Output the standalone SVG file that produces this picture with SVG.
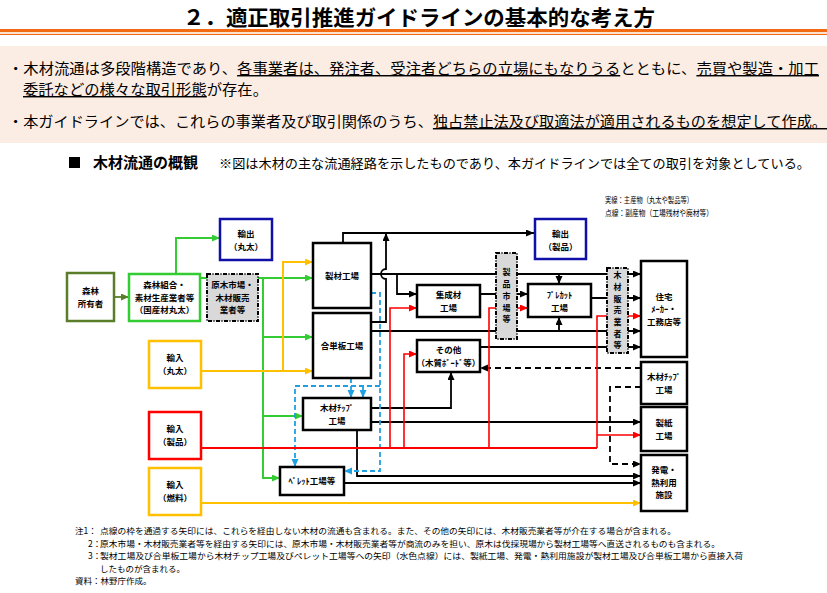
<svg xmlns="http://www.w3.org/2000/svg" width="827" height="593" viewBox="0 0 827 593">
<style>
text{font-family:"Noto Sans CJK JP","Noto Sans",sans-serif;fill:#000}
.title{font-size:21px;font-weight:700}
.body{font-size:14.5px}
.u{text-decoration:underline}
.t{font-size:8.5px;font-weight:700;text-anchor:middle}
.v{font-size:8px;font-weight:700;text-anchor:middle}
.note{font-size:8.5px}
.leg{font-size:8.5px}
.box{fill:#fff;stroke:#000;stroke-width:2.5}
.gray{fill:#d9d9d9;stroke:#000;stroke-width:2;stroke-dasharray:4 1.5 1 1.5}
.c{fill:none;stroke-width:1.8}
.k{stroke:#000}
.g{stroke:#33cc33;stroke-width:2}
.y{stroke:#ffc000;stroke-width:2}
.r{stroke:#ff0000;stroke-width:1.6}
.b{stroke:#1ea0e3;stroke-dasharray:5 3}
.d{stroke-dasharray:6 4}
</style>
<defs>
<marker id="ak" markerUnits="userSpaceOnUse" markerWidth="9" markerHeight="8" refX="8" refY="3.5" orient="auto"><path d="M0,0L8,3.5L0,7z" fill="#000"/></marker>
<marker id="ag" markerUnits="userSpaceOnUse" markerWidth="9" markerHeight="8" refX="8" refY="3.5" orient="auto"><path d="M0,0L8,3.5L0,7z" fill="#33cc33"/></marker>
<marker id="ao" markerUnits="userSpaceOnUse" markerWidth="9" markerHeight="8" refX="8" refY="3.5" orient="auto"><path d="M0,0L8,3.5L0,7z" fill="#5a7d2a"/></marker>
<marker id="ay" markerUnits="userSpaceOnUse" markerWidth="9" markerHeight="8" refX="8" refY="3.5" orient="auto"><path d="M0,0L8,3.5L0,7z" fill="#ffc000"/></marker>
<marker id="ar" markerUnits="userSpaceOnUse" markerWidth="9" markerHeight="8" refX="8" refY="3.5" orient="auto"><path d="M0,0L8,3.5L0,7z" fill="#ff0000"/></marker>
<marker id="ab" markerUnits="userSpaceOnUse" markerWidth="9" markerHeight="8" refX="8" refY="3.5" orient="auto"><path d="M0,0L8,3.5L0,7z" fill="#1ea0e3"/></marker>
</defs>
<rect width="827" height="593" fill="#fff"/>
<!-- header -->
<text class="title" x="183" y="25" textLength="472" lengthAdjust="spacingAndGlyphs">２．適正取引推進ガイドラインの基本的な考え方</text>
<rect x="0" y="29" width="827" height="3.2" fill="#f26b12"/>
<rect x="0" y="33.8" width="827" height="1.2" fill="#f26b12"/>
<rect x="0" y="46" width="827" height="97" fill="#fcede4"/>
<text class="body" x="8" y="74" textLength="811" lengthAdjust="spacingAndGlyphs">・木材流通は多段階構造であり、<tspan class="u">各事業者は、発注者、受注者どちらの立場にもなりうる</tspan>とともに、<tspan class="u">売買や製造・加工</tspan></text>
<text class="body" x="23" y="95" textLength="245" lengthAdjust="spacingAndGlyphs"><tspan class="u">委託などの様々な取引形態</tspan>が存在。</text>
<text class="body" x="8" y="127" textLength="819" lengthAdjust="spacingAndGlyphs">・本ガイドラインでは、これらの事業者及び取引関係のうち、<tspan class="u">独占禁止法及び取適法が適用されるものを想定して作成。</tspan></text>
<rect x="69" y="157" width="11" height="11" fill="#000"/>
<text x="93" y="168" style="font-size:15px;font-weight:700" textLength="105" lengthAdjust="spacingAndGlyphs">木材流通の概観</text>
<text x="219" y="168" style="font-size:13px" textLength="591" lengthAdjust="spacingAndGlyphs">※図は木材の主な流通経路を示したものであり、本ガイドラインでは全ての取引を対象としている。</text>
<text class="leg" x="605" y="203" textLength="88" lengthAdjust="spacingAndGlyphs">実線：主産物（丸太や製品等）</text>
<text class="leg" x="605" y="216" textLength="108" lengthAdjust="spacingAndGlyphs">点線：副産物（工場残材や廃材等）</text>

<g id="connectors">
<!-- olive / green -->
<path class="c" d="M114,297H129" stroke="#5a7d2a" stroke-width="2.5" marker-end="url(#ao)"/>
<path class="c g" d="M176,274V238H220" marker-end="url(#ag)"/>
<path class="c g" d="M200,278H313" marker-end="url(#ag)"/>
<path class="c g" d="M263,278V478H280" marker-end="url(#ag)"/>
<path class="c g" d="M263,337H313" marker-end="url(#ag)"/>
<path class="c g" d="M263,416H303" marker-end="url(#ag)"/>
<!-- yellow -->
<path class="c y" d="M201,371H313" marker-end="url(#ay)"/>
<path class="c y" d="M283,371V262H313" marker-end="url(#ay)"/>
<path class="c y" d="M201,503H641" marker-end="url(#ay)"/>
<!-- black -->
<path class="c k" d="M343,243V233H534" marker-end="url(#ak)"/>
<path class="c k" d="M371,322H386V279A5,5 0 0 1 386,269V233" marker-end="url(#ak)"/>
<path class="c k" d="M371,274H641" marker-end="url(#ak)"/>
<path class="c k" d="M397,274V294H417" marker-end="url(#ak)"/>
<path class="c k" d="M559,274V284" marker-end="url(#ak)"/>
<path class="c k" d="M480,294H528" marker-end="url(#ak)"/>
<path class="c k" d="M591,298H641" marker-end="url(#ak)"/>
<path class="c k" d="M371,331H641" marker-end="url(#ak)"/>
<path class="c k" d="M559,331V317" marker-end="url(#ak)"/>
<path class="c k" d="M480,347H641" stroke-width="2.2" marker-end="url(#ak)"/>
<path class="c k d" d="M641,368H480" marker-end="url(#ak)"/>
<path class="c k" d="M371,408H451V372" marker-end="url(#ak)"/>
<path class="c k" d="M371,422H641" marker-end="url(#ak)"/>
<path class="c k" d="M357,430V476H641" stroke-width="2.4" marker-end="url(#ak)"/>
<path class="c k" d="M344,483H641" marker-end="url(#ak)"/>
<path class="c k d" d="M641,387H610V464H641" marker-end="url(#ak)"/>
<!-- light blue dashed -->
<path class="c b" d="M351,378V398" marker-end="url(#ab)"/>
<path class="c b" d="M371,293H380V471H344" marker-end="url(#ab)"/>
<path class="c b" d="M380,386H295V467" marker-end="url(#ab)"/>
<path class="c b" d="M363,386V398" marker-end="url(#ab)"/>
<!-- red -->
<path class="c" d="M201,448H597" stroke="#ff0000" stroke-width="2.5"/>
<path class="c r" d="M390,448V308H417" marker-end="url(#ar)"/>
<path class="c r" d="M404,448V354H417" marker-end="url(#ar)"/>
<path class="c r" d="M489,448V308H528" marker-end="url(#ar)"/>
<path class="c r" d="M597,448V316H641" marker-end="url(#ar)"/>
<path class="c r" d="M597,435H641" marker-end="url(#ar)"/>
</g>

<g id="shinrin-shoyusha"><rect x="67" y="273" width="47" height="48" fill="#fff" stroke="#5a7d2a" stroke-width="2.5"/><text class="t"><tspan x="90.5" y="294">森林</tspan><tspan x="90.5" y="306.5">所有者</tspan></text></g>
<g id="shinrin-kumiai"><rect x="129" y="274" width="71" height="47" fill="#fff" stroke="#33cc33" stroke-width="2.5"/><text class="t"><tspan x="164.5" y="288">森林組合・</tspan><tspan x="164.5" y="300.5">素材生産業者等</tspan><tspan x="164.5" y="313">（国産材丸太）</tspan></text></g>
<g id="genboku-ichiba"><rect x="207" y="274" width="51" height="47" class="gray"/><text class="t"><tspan x="232.5" y="288">原木市場・</tspan><tspan x="232.5" y="300.5">木材販売</tspan><tspan x="232.5" y="313">業者等</tspan></text></g>
<g id="yushutsu-maruta"><rect x="220" y="219" width="52" height="41" fill="#fff" stroke="#1010a8" stroke-width="2.5"/><text class="t"><tspan x="246" y="237">輸出</tspan><tspan x="246" y="249.5">（丸太）</tspan></text></g>
<g id="seizai"><rect x="313" y="243" width="58" height="65" class="box"/><text class="t" x="342" y="279">製材工場</text></g>
<g id="goutanpan"><rect x="313" y="313" width="58" height="65" class="box"/><text class="t" x="342" y="349">合単板工場</text></g>
<g id="shuseizai"><rect x="417" y="285" width="63" height="32" class="box"/><text class="t"><tspan x="448.5" y="298">集成材</tspan><tspan x="448.5" y="310.5">工場</tspan></text></g>
<g id="sonota"><rect x="417" y="340" width="63" height="32" class="box"/><text class="t"><tspan x="448.5" y="353">その他</tspan><tspan x="448.5" y="365.5">（木質ﾎﾞｰﾄﾞ等）</tspan></text></g>
<g id="seihin-ichiba"><rect x="496" y="253" width="21" height="86" class="gray"/><text class="v"><tspan x="506.5" y="275.4">製</tspan><tspan x="506.5" y="287.1">品</tspan><tspan x="506.5" y="298.8">市</tspan><tspan x="506.5" y="310.5">場</tspan><tspan x="506.5" y="322.2">等</tspan></text></g>
<g id="precut"><rect x="528" y="284" width="63" height="33" class="box"/><text class="t"><tspan x="559.5" y="298">ﾌﾟﾚｶｯﾄ</tspan><tspan x="559.5" y="310.5">工場</tspan></text></g>
<g id="yushutsu-seihin"><rect x="535" y="219" width="51" height="40" fill="#fff" stroke="#1010a8" stroke-width="2.5"/><text class="t"><tspan x="560.5" y="237">輸出</tspan><tspan x="560.5" y="249.5">（製品）</tspan></text></g>
<g id="mokuzai-hanbai"><rect x="607" y="268" width="21" height="85" class="gray"/><text class="v"><tspan x="617.5" y="278.2">木</tspan><tspan x="617.5" y="289.9">材</tspan><tspan x="617.5" y="301.6">販</tspan><tspan x="617.5" y="313.3">売</tspan><tspan x="617.5" y="325">業</tspan><tspan x="617.5" y="336.7">者</tspan><tspan x="617.5" y="348.4">等</tspan></text></g>
<g id="jutaku"><rect x="641" y="261" width="46" height="96" class="box"/><text class="t"><tspan x="664" y="299.5">住宅</tspan><tspan x="664" y="312">ﾒｰｶｰ・</tspan><tspan x="664" y="324.5">工務店等</tspan></text></g>
<g id="chip-right"><rect x="641" y="362" width="46" height="42" class="box"/><text class="t"><tspan x="664" y="380">木材ﾁｯﾌﾟ</tspan><tspan x="664" y="392.5">工場</tspan></text></g>
<g id="seishi"><rect x="641" y="407" width="46" height="44" class="box"/><text class="t"><tspan x="664" y="426">製紙</tspan><tspan x="664" y="438.5">工場</tspan></text></g>
<g id="hatsuden"><rect x="641" y="455" width="46" height="56" class="box"/><text class="t"><tspan x="664" y="473">発電・</tspan><tspan x="664" y="485.5">熱利用</tspan><tspan x="664" y="498">施設</tspan></text></g>
<g id="chip-mid"><rect x="303" y="398" width="68" height="32" class="box"/><text class="t"><tspan x="337" y="411">木材ﾁｯﾌﾟ</tspan><tspan x="337" y="423.5">工場</tspan></text></g>
<g id="pellet"><rect x="280" y="467" width="64" height="28" class="box"/><text class="t" x="312" y="484">ﾍﾟﾚｯﾄ工場等</text></g>
<g id="yunyu-maruta"><rect x="149" y="341" width="52" height="47" fill="#fff" stroke="#ffc000" stroke-width="2.5"/><text class="t"><tspan x="175" y="361">輸入</tspan><tspan x="175" y="373.5">（丸太）</tspan></text></g>
<g id="yunyu-seihin"><rect x="149" y="412" width="52" height="47" fill="#fff" stroke="#ff0000" stroke-width="2.5"/><text class="t"><tspan x="175" y="432">輸入</tspan><tspan x="175" y="444.5">（製品）</tspan></text></g>
<g id="yunyu-nenryo"><rect x="149" y="468" width="52" height="47" fill="#fff" stroke="#ffc000" stroke-width="2.5"/><text class="t"><tspan x="175" y="488">輸入</tspan><tspan x="175" y="500.5">（燃料）</tspan></text></g>

<!-- notes -->
<text class="note" x="75" y="534">注1：</text>
<text class="note" x="100" y="534" textLength="576" lengthAdjust="spacingAndGlyphs">点線の枠を通過する矢印には、これらを経由しない木材の流通も含まれる。また、その他の矢印には、木材販売業者等が介在する場合が含まれる。</text>
<text class="note" x="88" y="546.5">2：</text>
<text class="note" x="100" y="546.5" textLength="620" lengthAdjust="spacingAndGlyphs">原木市場・木材販売業者等を経由する矢印には、原木市場・木材販売業者等が商流のみを担い、原木は伐採現場から製材工場等へ直送されるものも含まれる。</text>
<text class="note" x="88" y="559">3：</text>
<text class="note" x="100" y="559" textLength="643" lengthAdjust="spacingAndGlyphs">製材工場及び合単板工場から木材チップ工場及びペレット工場等への矢印（水色点線）には、製紙工場、発電・熱利用施設が製材工場及び合単板工場から直接入荷</text>
<text class="note" x="100" y="571.5">したものが含まれる。</text>
<text class="note" x="75" y="584">資料：林野庁作成。</text>
</svg>
